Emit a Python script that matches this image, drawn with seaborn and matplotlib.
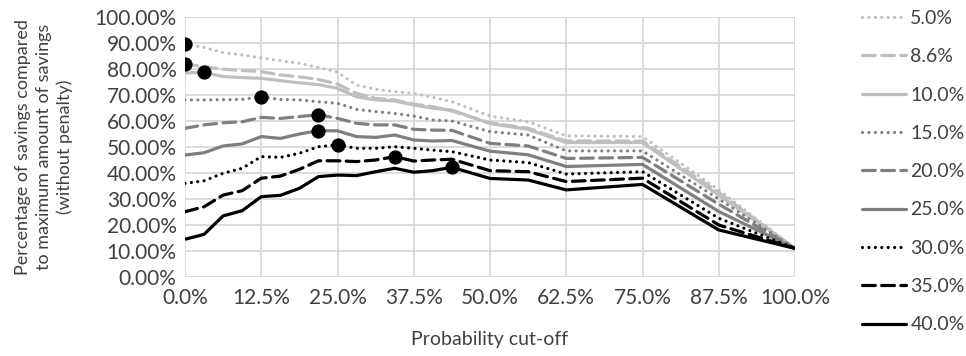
import matplotlib
matplotlib.use("Agg")
import matplotlib.pyplot as plt
from matplotlib.lines import Line2D
from matplotlib.ticker import PercentFormatter, MultipleLocator
import seaborn as sns

# Probability cut-off values (%)
cutoff = [0, 3.125, 6.25, 9.375, 12.5, 15.625, 18.75, 21.875, 25, 28.125, 31.25,
          34.375, 37.5, 40.625, 43.75, 50, 56.25, 62.5, 75, 87.5, 100]

# Savings relative to the maximum amount of savings (%), one list per penalty level
s_5_0 = [89.5, 88.3, 86.3, 85.4, 84.3, 83.2, 82.2, 80.6, 78.8, 73.8, 72.2,
         71.3, 70.6, 69.1, 67.4, 61.9, 59.7, 54.3, 54.0, 33.5, 11.0]
s_8_6 = [81.8, 80.9, 79.9, 79.4, 79.0, 77.7, 77.0, 76.0, 74.2, 70.6, 68.7,
         68.1, 66.5, 65.5, 63.8, 59.3, 57.2, 52.3, 52.3, 32.5, 11.0]
s_10_0 = [78.5, 78.7, 77.1, 76.7, 76.4, 75.5, 74.7, 74.0, 72.6, 69.3, 68.1,
          67.7, 66.2, 64.9, 64.2, 59.0, 56.8, 51.7, 51.7, 31.5, 11.0]
s_15_0 = [68.1, 68.1, 68.2, 68.3, 69.3, 68.3, 68.1, 67.4, 66.8, 64.5, 63.6,
          62.9, 61.9, 60.4, 60.0, 55.9, 54.6, 48.5, 48.5, 30.0, 11.0]
s_20_0 = [57.2, 58.5, 59.3, 59.7, 61.4, 61.0, 61.7, 62.4, 61.0, 59.1, 58.5,
          58.5, 56.8, 56.5, 56.4, 51.4, 50.4, 45.6, 46.0, 28.0, 11.0]
s_25_0 = [46.9, 47.8, 50.4, 51.2, 54.0, 53.3, 55.0, 56.3, 56.2, 54.0, 53.7,
          54.6, 52.7, 52.3, 52.5, 48.4, 47.0, 42.5, 43.3, 25.2, 11.0]
s_30_0 = [36.0, 37.0, 39.9, 41.8, 46.3, 46.0, 47.6, 50.1, 50.8, 49.5, 49.5,
          50.1, 49.5, 48.8, 48.2, 45.0, 44.0, 39.6, 40.5, 22.6, 11.0]
s_35_0 = [25.1, 27.0, 31.5, 33.2, 38.0, 38.8, 41.4, 44.7, 44.7, 44.4, 45.0,
          46.3, 44.6, 45.0, 45.3, 40.9, 40.5, 36.7, 38.0, 20.0, 11.0]
s_40_0 = [14.5, 16.4, 23.5, 25.5, 30.9, 31.4, 34.1, 38.6, 39.2, 39.0, 40.5,
          41.8, 40.3, 40.9, 42.2, 37.9, 37.3, 33.5, 35.6, 18.1, 11.0]

series_labels = ["5.0%", "8.6%", "10.0%", "15.0%", "20.0%", "25.0%", "30.0%", "35.0%", "40.0%"]
series_values = [s_5_0, s_8_6, s_10_0, s_15_0, s_20_0, s_25_0, s_30_0, s_35_0, s_40_0]

# Cut-off at which each series reaches its best savings
best_cutoff = [0, 0, 3.125, 12.5, 21.875, 21.875, 25, 34.375, 43.75]

LIGHT, MID, DARK = "#BFBFBF", "#7F7F7F", "#000000"
DOT = (0, (0.01, 2.0))
DASH = (0, (4, 2))
styles = [
    (LIGHT, DOT), (LIGHT, DASH), (LIGHT, "-"),
    (MID, DOT), (MID, DASH), (MID, "-"),
    (DARK, DOT), (DARK, DASH), (DARK, "-"),
]

sns.set_theme(style="white")
plt.rcParams["font.family"] = ["Lato", "DejaVu Sans"]
TEXT = "#404040"
FS_TICK = 15
FS_LABEL = 14
FS_YLABEL = 13
FS_LEG = 14

W, H = 966, 356
fig = plt.figure(figsize=(W / 100, H / 100), dpi=100)
ax = fig.add_axes([185 / W, 1 - 277 / H, 610 / W, 260 / H])

LW = 2.3
for (color, ls), vals in zip(styles, series_values):
    sns.lineplot(x=cutoff, y=vals, ax=ax, color=color, linestyle=ls, lw=LW,
                 dash_capstyle="round", solid_capstyle="butt", zorder=3)

best_vals = [vals[cutoff.index(c)] for c, vals in zip(best_cutoff, series_values)]
sns.scatterplot(x=best_cutoff, y=best_vals, ax=ax, color="black", s=105,
                edgecolor="black", linewidth=0, zorder=5)

ax.set_xlim(0, 100)
ax.set_ylim(0, 100)
ax.xaxis.set_major_locator(MultipleLocator(12.5))
ax.yaxis.set_major_locator(MultipleLocator(10))
ax.xaxis.set_major_formatter(PercentFormatter(100, decimals=1))
ax.yaxis.set_major_formatter(PercentFormatter(100, decimals=2))
ax.grid(True, color="#D9D9D9", lw=1.3)
ax.set_axisbelow(True)
for sp in ax.spines.values():
    sp.set_visible(False)
ax.tick_params(axis="both", length=0, labelsize=FS_TICK, labelcolor=TEXT)
ax.tick_params(axis="x", pad=8)
ax.tick_params(axis="y", pad=6)
ax.set_xlabel("")
ax.set_ylabel("")

fig.text(490 / W, 1 - 339 / H, "Probability cut-off", ha="center", va="center",
         fontsize=FS_LABEL, color=TEXT)
fig.text(44 / W, 1 - 147 / H,
         "Percentage of savings compared\nto maximum amount of savings\n(without penalty)",
         ha="center", va="center", rotation=90, fontsize=FS_YLABEL, color=TEXT,
         linespacing=1.33)

handles = [Line2D([], [], color=c, linestyle=ls, lw=LW, dash_capstyle="round")
           for c, ls in styles]
fig.legend(handles, series_labels, loc="upper left",
           bbox_to_anchor=(862 / W, 1 - 10 / H), frameon=False, fontsize=FS_LEG,
           labelcolor=TEXT, handlelength=2.27, handletextpad=0.22,
           labelspacing=1.095, borderaxespad=0, borderpad=0)

fig.savefig("out.png", dpi=100, facecolor="white")
